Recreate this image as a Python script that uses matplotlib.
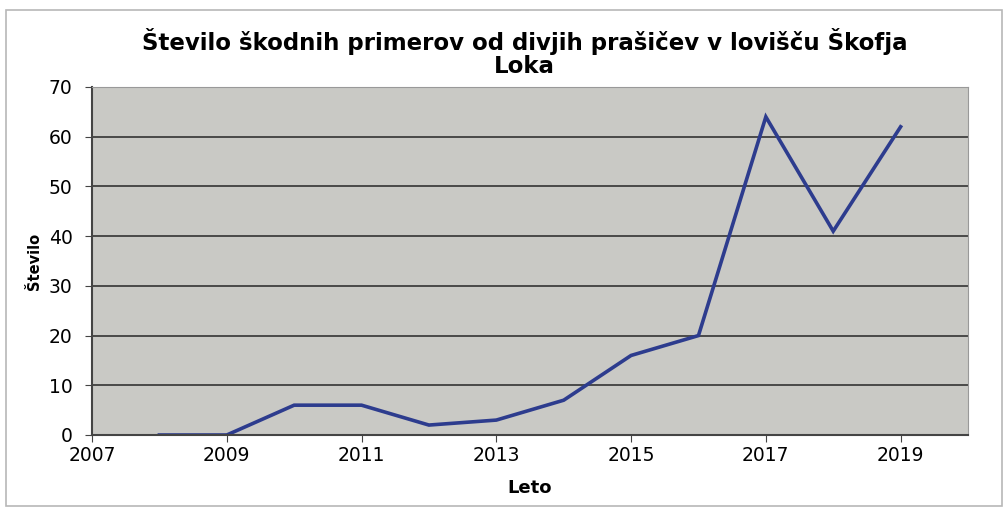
import matplotlib
matplotlib.use("Agg")
import matplotlib.pyplot as plt
from matplotlib.patches import Rectangle

# data
leta = [2008, 2009, 2010, 2011, 2012, 2013, 2014, 2015, 2016, 2017, 2018, 2019]
stevilo = [0, 0, 6, 6, 2, 3, 7, 16, 20, 64, 41, 62]
x_ticks = [2007, 2009, 2011, 2013, 2015, 2017, 2019]
y_ticks = [0, 10, 20, 30, 40, 50, 60, 70]

# the scan looks horizontally wide, DejaVu is the widest we have
plt.rcParams['font.family'] = ['DejaVu Sans']

fig = plt.figure(figsize=(10.08, 5.12), dpi=100)
fig.patch.set_facecolor('white')
# outer chart border
fig.patches.append(Rectangle((0.006, 0.012), 0.988, 0.968, transform=fig.transFigure,
                             fill=False, edgecolor='#b8b8b8', linewidth=1.2))

ax = fig.add_axes([92/1008, 1 - 435/512, (968-92)/1008, (435-87)/512])
ax.set_facecolor('#c9c9c5')
ax.plot(leta, stevilo, color='#2d3c8e', linewidth=2.6, solid_joinstyle='miter')

ax.set_xlim(2007, 2020)
ax.set_ylim(0, 70)
ax.set_xticks(x_ticks)
ax.set_yticks(y_ticks)
ax.tick_params(axis='both', labelsize=13.5, direction='out', length=5, color='#444444')
ax.tick_params(axis='x', pad=3)
ax.tick_params(axis='y', pad=9)
ax.yaxis.grid(True, color='#333333', linewidth=1.2)
ax.set_axisbelow(True)
for s in ['top', 'right']:
    ax.spines[s].set_color('#999999')
for s in ['left', 'bottom']:
    ax.spines[s].set_color('#444444')
    ax.spines[s].set_linewidth(1.5)

ax.set_title('Število škodnih primerov od divjih prašičev v lovišču Škofja\nLoka',
             x=0.494, fontsize=16.5, fontweight='bold', pad=10, linespacing=1.0)
ax.set_xlabel('Leto', fontsize=13, fontweight='bold', labelpad=10)
ax.set_ylabel('Število', fontsize=10.5, fontweight='bold', labelpad=5)

fig.savefig('out.png', dpi=100)
